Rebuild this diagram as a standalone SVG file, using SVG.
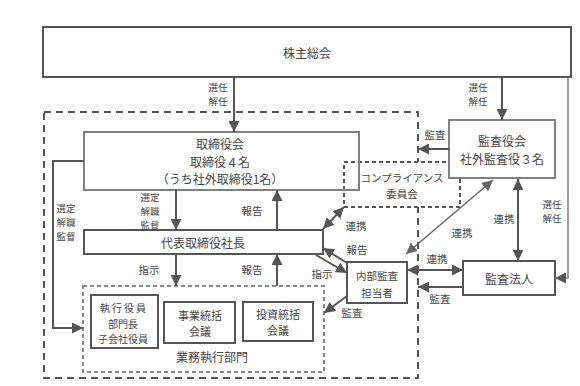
<svg xmlns="http://www.w3.org/2000/svg" width="580" height="386" viewBox="0 0 580 386">
<style>
text{font-family:"Noto Sans CJK JP","Noto Sans",sans-serif;fill:#444;dominant-baseline:central;text-anchor:middle}
.b{font-size:12px}
.m{font-size:11px}
.s{font-size:10.5px}
.t{font-size:9.5px}
.l{font-size:10px}
.box{fill:#fff;stroke:#555;stroke-width:2}
.gbox{fill:#fff;stroke:#808080;stroke-width:2}
.c{fill:none;stroke:#555;stroke-width:2}
.ct{fill:none;stroke:#666;stroke-width:1.5}
</style>
<defs>
<marker id="a" markerUnits="userSpaceOnUse" markerWidth="11" markerHeight="11" refX="11" refY="5.5" orient="auto-start-reverse"><path d="M0,0 L11,5.5 L0,11 z" fill="#555"/></marker>
<marker id="a2" markerUnits="userSpaceOnUse" markerWidth="11" markerHeight="11" refX="11" refY="5.5" orient="auto-start-reverse"><path d="M0,0 L11,5.5 L0,11 z" fill="#666"/></marker>
</defs>
<rect width="580" height="386" fill="#fff"/>
<rect x="44" y="112" width="374" height="266" fill="none" stroke="#555" stroke-width="2" stroke-dasharray="7 5"/>
<g id="kabunushi"><rect class="box" x="43" y="27" width="528" height="50"/><text class="b" x="307" y="52">株主総会</text></g>
<g id="compliance"><rect x="344" y="162" width="116" height="45" fill="#fff" stroke="#555" stroke-width="2" stroke-dasharray="4 3"/><text class="s" x="402" y="177">コンプライアンス<tspan x="402" dy="15.5">委員会</tspan></text></g>
<g id="torishimariyakukai"><rect x="84" y="132" width="275" height="58" fill="none" stroke="#808080" stroke-width="2"/><text class="b" x="220" y="143">取締役会<tspan x="220" dy="17.5">取締役４名</tspan><tspan x="220" dy="17.5">（うち社外取締役1名）</tspan></text></g>
<g id="kansayakukai"><rect class="gbox" x="449" y="120" width="106" height="58"/><text class="b" x="502" y="140">監査役会<tspan x="502" dy="17.5">社外監査役３名</tspan></text></g>
<g id="daihyo"><rect class="box" x="84" y="230" width="239" height="24"/><text class="b" x="203" y="242">代表取締役社長</text></g>
<g id="naibukansa"><rect class="box" x="347" y="262" width="60" height="41"/><text class="s" x="377" y="275">内部監査<tspan x="377" dy="17">担当者</tspan></text></g>
<g id="kansahojin"><rect class="box" x="463" y="261" width="92" height="34"/><text class="b" x="509" y="278">監査法人</text></g>
<g id="gyomu"><rect x="83" y="286" width="241" height="86" fill="none" stroke="#888" stroke-width="2" stroke-dasharray="4 3"/><text class="b" x="212" y="356">業務執行部門</text></g>
<g id="shikkoyakuin"><rect class="box" x="91" y="295" width="67" height="53"/><text class="l" x="124" y="307"><tspan letter-spacing="2">執行役員</tspan><tspan x="123" dy="15.5">部門長</tspan><tspan x="123" dy="15.5">子会社役員</tspan></text></g>
<g id="jigyo"><rect class="box" x="164" y="302" width="71" height="41"/><text class="m" x="200" y="314.5">事業統括<tspan x="200" dy="16">会議</tspan></text></g>
<g id="toshi"><rect class="box" x="243" y="302" width="70" height="39"/><text class="m" x="278" y="314">投資統括<tspan x="278" dy="16">会議</tspan></text></g>
<g id="connectors">
<line class="c" x1="234" y1="77" x2="234" y2="132" marker-end="url(#a)"/>
<line class="c" x1="502" y1="77" x2="502" y2="120" marker-end="url(#a)"/>
<polyline fill="none" stroke="#808080" stroke-width="1.5" points="568,77 568,278 555,278" marker-end="url(#a)"/>
<line class="c" x1="449" y1="149" x2="418" y2="149" marker-end="url(#a)"/>
<line class="c" x1="518" y1="179" x2="518" y2="261" marker-start="url(#a)" marker-end="url(#a)"/>
<line class="ct" x1="493" y1="180" x2="406" y2="254" marker-start="url(#a2)" marker-end="url(#a2)"/>
<line class="c" x1="407" y1="270" x2="463" y2="270" marker-start="url(#a)" marker-end="url(#a)"/>
<line class="c" x1="463" y1="287" x2="418" y2="287" marker-end="url(#a)"/>
<line class="c" x1="176" y1="190" x2="176" y2="230" marker-end="url(#a)"/>
<line class="c" x1="277" y1="230" x2="277" y2="190" marker-end="url(#a)"/>
<polyline class="c" points="84,161 53,161 53,328 83,328" marker-end="url(#a)"/>
<line class="c" x1="176" y1="254" x2="176" y2="286" marker-end="url(#a)"/>
<line class="c" x1="277" y1="286" x2="277" y2="254" marker-end="url(#a)"/>
<line class="c" x1="323" y1="229" x2="344" y2="207" marker-start="url(#a)" marker-end="url(#a)"/>
<line class="c" x1="347" y1="263" x2="323" y2="248" marker-end="url(#a)"/>
<line class="c" x1="316" y1="255" x2="347" y2="273" marker-end="url(#a)"/>
<line class="c" x1="347" y1="296" x2="324" y2="313" marker-end="url(#a)"/>
<text class="t" x="218" y="86.5">選任<tspan x="218" dy="14">解任</tspan></text>
<text class="t" x="478" y="86.5">選任<tspan x="478" dy="14">解任</tspan></text>
<text class="s" x="435" y="134">監査</text>
<text class="t" x="552" y="204">選任<tspan x="552" dy="14">解任</tspan></text>
<text class="s" x="504" y="218">連携</text>
<text class="s" x="462" y="232">連携</text>
<text class="s" x="437" y="258">連携</text>
<text class="s" x="440" y="298">監査</text>
<text class="t" x="150" y="196.5">選定<tspan x="150" dy="14">解職</tspan><tspan x="150" dy="14">監督</tspan></text>
<text class="t" x="66" y="208">選定<tspan x="66" dy="14">解職</tspan><tspan x="66" dy="14">監督</tspan></text>
<text class="s" x="252" y="210">報告</text>
<text class="s" x="149" y="269">指示</text>
<text class="s" x="252" y="269">報告</text>
<text class="s" x="356" y="225">連携</text>
<text class="s" x="357" y="249">報告</text>
<text class="s" x="322" y="273">指示</text>
<text class="s" x="352" y="312">監査</text>
</g>
</svg>
